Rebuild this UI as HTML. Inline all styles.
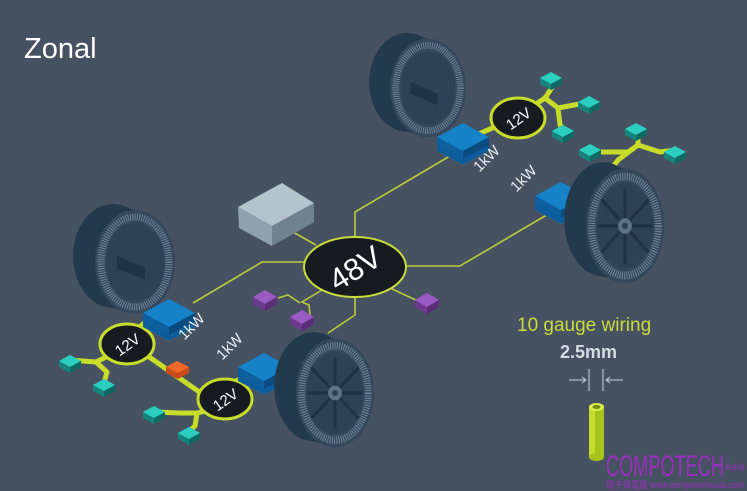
<!DOCTYPE html>
<html><head><meta charset="utf-8"><style>
html,body{margin:0;padding:0;background:#465261;}
svg{display:block}
</style></head><body>
<svg width="747" height="491" viewBox="0 0 747 491" xmlns="http://www.w3.org/2000/svg" font-family="Liberation Sans, sans-serif">
<defs>
  <g id="teal">
    <polygon points="-11,0 0,-6 11,0 11,6 0,12 -11,6" fill="#17837c"/>
    <polygon points="-11,0 0,-6 11,0 0,6" fill="#2ccfbf"/>
    <polygon points="0,6 11,0 11,6 0,12" fill="#0f6862"/>
  </g>
  <g id="purple">
    <polygon points="-12,0 0,-7 12,0 12,7 0,14 -12,7" fill="#6c3a8c"/>
    <polygon points="-12,0 0,-7 12,0 0,7" fill="#9a5cc4"/>
    <polygon points="0,7 12,0 12,7 0,14" fill="#5a2d78"/>
  </g>
  <g id="blue">
    <polygon points="-26,8 0,-6 26,8 0,22" fill="#c8dc2a"/>
    <polygon points="-26,0 0,-14 26,0 26,8 0,22 -26,8" fill="#0d5c9c"/>
    <polygon points="-26,-6 0,-20 26,-6 0,8" fill="#1682c8"/>
    <polygon points="-26,-6 0,8 0,16 -26,2" fill="#0e5f9e"/>
    <polygon points="0,8 26,-6 26,2 0,16" fill="#0a4b80"/>
  </g>
  <g id="tire">
    <ellipse cx="-22" cy="-6" rx="40" ry="52" fill="#223a4c"/>
    <polygon points="-22,-58 0,-52 0,52 -22,46" fill="#223a4c"/>
    <ellipse cx="0" cy="0" rx="40" ry="52" fill="#34495b"/>
    <ellipse cx="0" cy="0" rx="34" ry="45" fill="none" stroke="#6f8597" stroke-width="7" stroke-dasharray="1 1.3"/>
    <ellipse cx="0" cy="0" rx="29" ry="39" fill="#2d4255"/>
  </g>
</defs>
<rect width="747" height="491" fill="#465261"/>
<text x="24" y="58" font-size="29" fill="#ffffff" font-weight="300">Zonal</text>

<!-- tires -->
<g transform="translate(135,262)"><use href="#tire"/><polygon points="-18,-6 -18,6 10,18 10,6" fill="#1e3344"/></g>
<g transform="translate(428,88) scale(0.95)"><use href="#tire"/><polygon points="-18,-6 -18,6 10,18 10,6" fill="#1e3344"/></g>

<!-- thin lines -->
<g fill="none" stroke="#b9cc3c" stroke-width="1.6">
  <polyline points="355,238 355,212 460,150"/>
  <polyline points="405,266 460,266 550,213"/>
  <polyline points="305,262 262,262 193,303"/>
  <polyline points="355,297 355,315 328,333"/>
  <line x1="293" y1="232" x2="316" y2="245"/>
  <polyline points="322,290 302,302 309,305 310,315"/>
  <polyline points="300,303 288,295 278,298"/>
  <line x1="390" y1="288" x2="420" y2="302"/>
</g>

<!-- gray box -->
<polygon points="238,207 282,183 314,203 272,226" fill="#b5c4cc"/>
<polygon points="238,207 272,226 272,246 239,228" fill="#8fa1ad"/>
<polygon points="272,226 314,203 314,222 272,246" fill="#6e8290"/>

<!-- 48V -->
<ellipse cx="355" cy="267" rx="51" ry="30" fill="#171b1f" stroke="#c8dc3a" stroke-width="2"/>
<text x="355" y="279" font-size="31" fill="#fff" text-anchor="middle" transform="rotate(-32 355 268)">48V</text>

<!-- purple -->
<use href="#purple" x="265" y="297"/>
<use href="#purple" x="302" y="317"/>
<use href="#purple" x="427" y="300"/>

<!-- thick wires -->
<g fill="none" stroke="#c8dc2a" stroke-width="5" stroke-linejoin="round">
  <polyline points="150,318 125,340 205,396 255,372"/>
  <polyline points="110,355 96,362 70,360"/>
  <polyline points="96,362 107,372 104,383"/>
  <polyline points="210,410 197,413 180,413 155,412"/>
  <polyline points="197,413 195,426 188,432"/>
  <polyline points="465,140 515,118 545,98 555,83"/>
  <polyline points="545,98 558,108 585,103"/>
  <polyline points="558,108 560,125 565,130"/>
  <polyline points="590,152 628,152 638,145 638,132"/>
  <polyline points="638,145 660,152 676,150"/>
  <polyline points="638,145 618,160 612,168"/>
</g>

<!-- 12V -->
<ellipse cx="127" cy="344" rx="27" ry="20" fill="#171b1f" stroke="#c8dc2a" stroke-width="3"/>
<text x="127" y="350" font-size="15" fill="#fff" text-anchor="middle" transform="rotate(-35 127 344)">12V</text>
<ellipse cx="225" cy="399" rx="27" ry="20" fill="#171b1f" stroke="#c8dc2a" stroke-width="3"/>
<text x="225" y="405" font-size="15" fill="#fff" text-anchor="middle" transform="rotate(-35 225 399)">12V</text>
<ellipse cx="518" cy="118" rx="27" ry="20" fill="#171b1f" stroke="#c8dc2a" stroke-width="3"/>
<text x="518" y="124" font-size="15" fill="#fff" text-anchor="middle" transform="rotate(-35 518 118)">12V</text>

<!-- orange -->
<polygon points="166,367 177,361 189,367 189,373 178,379 166,373" fill="#c94a18"/>
<polygon points="166,367 177,361 189,367 178,373" fill="#f06a2a"/>

<!-- teal boxes -->
<use href="#teal" x="70" y="361"/>
<use href="#teal" x="104" y="385"/>
<use href="#teal" x="154" y="412"/>
<use href="#teal" x="189" y="433"/>
<use href="#teal" x="551" y="78"/>
<use href="#teal" x="589" y="102"/>
<use href="#teal" x="563" y="131"/>
<use href="#teal" x="590" y="150"/>
<use href="#teal" x="636" y="129"/>
<use href="#teal" x="675" y="152"/>

<!-- blue modules -->
<use href="#blue" x="169" y="319"/>
<use href="#blue" x="264" y="373"/>
<use href="#blue" x="463" y="143"/>
<use href="#blue" x="561" y="202"/>

<!-- 1kW labels -->
<g font-size="15" fill="#e8eef2">
  <text x="180" y="340" transform="rotate(-45 183 335)">1kW</text>
  <text x="218" y="360" transform="rotate(-45 221 355)">1kW</text>
  <text x="475" y="172" transform="rotate(-45 478 167)">1kW</text>
  <text x="512" y="192" transform="rotate(-45 515 187)">1kW</text>
</g>

<!-- front tires -->
<g transform="translate(625,226) scale(0.98,1.1)"><use href="#tire"/>
  <g stroke="#1f3243" stroke-width="3"><line x1="0" y1="-34" x2="0" y2="34"/><line x1="-24" y1="-24" x2="24" y2="24"/><line x1="-24" y1="24" x2="24" y2="-24"/><line x1="-28" y1="0" x2="28" y2="0"/></g>
  <circle r="7" fill="#5e7384"/><circle r="3" fill="#2d4255"/></g>
<g transform="translate(335,393) scale(0.98,1.05)"><use href="#tire"/>
  <g stroke="#1f3243" stroke-width="3"><line x1="0" y1="-34" x2="0" y2="34"/><line x1="-24" y1="-24" x2="24" y2="24"/><line x1="-24" y1="24" x2="24" y2="-24"/><line x1="-28" y1="0" x2="28" y2="0"/></g>
  <circle r="7" fill="#5e7384"/><circle r="3" fill="#2d4255"/></g>

<!-- gauge -->
<text x="517" y="331" font-size="19" fill="#c8dc3a">10 gauge wiring</text>
<text x="560" y="358" font-size="18" fill="#d4dde2" font-weight="bold">2.5mm</text>
<g stroke="#c9d2d8" stroke-width="1" fill="none">
  <line x1="589" y1="369" x2="589" y2="391"/><line x1="603" y1="369" x2="603" y2="391"/>
  <line x1="569" y1="380" x2="586" y2="380"/><polyline points="582,377 586,380 582,383"/>
  <line x1="606" y1="380" x2="623" y2="380"/><polyline points="610,377 606,380 610,383"/>
</g>
<rect x="589" y="407" width="15" height="50" fill="#a6c41c"/>
<rect x="589" y="407" width="6" height="50" fill="#c4de2e"/>
<ellipse cx="596.5" cy="407" rx="7.5" ry="4" fill="#d9ef4a"/>
<ellipse cx="596.5" cy="407" rx="4" ry="2" fill="#6f8a10"/>
<ellipse cx="596.5" cy="457" rx="7.5" ry="4" fill="#a6c41c"/>

<!-- watermark -->
<text x="606" y="476" font-size="30" fill="#9b2fc0" textLength="118" lengthAdjust="spacingAndGlyphs" font-family="Liberation Sans Narrow, Liberation Sans, sans-serif">COMPOTECH</text>
<text x="725" y="470" font-size="10" fill="#9b2fc0">Asia</text>
<text x="606" y="488" font-size="9" fill="#9b2fc0" textLength="138" lengthAdjust="spacingAndGlyphs" font-family="Liberation Sans, Noto Sans CJK SC, sans-serif">電子與電腦 www.compotechasia.com</text>
</svg>
</body></html>
